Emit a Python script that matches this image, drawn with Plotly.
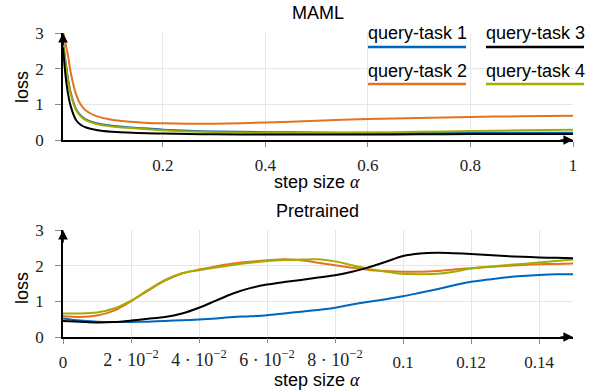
import plotly.graph_objects as go

# ---------------- data ----------------
top_alpha = [0.005, 0.01, 0.015, 0.02, 0.03, 0.04, 0.05, 0.07, 0.1, 0.13, 0.17, 0.2,
             0.25, 0.3, 0.4, 0.5, 0.6, 0.7, 0.8, 0.9, 1.0]
maml_task1 = [2.75, 2.2, 1.7, 1.33, 0.88, 0.68, 0.57, 0.47, 0.40, 0.36, 0.32, 0.29,
              0.26, 0.24, 0.22, 0.21, 0.2, 0.2, 0.2, 0.2, 0.2]
maml_task2 = [3.05, 2.7, 2.35, 1.9, 1.3, 0.98, 0.82, 0.67, 0.57, 0.52, 0.48, 0.47,
              0.455, 0.455, 0.49, 0.54, 0.59, 0.62, 0.645, 0.665, 0.68]
maml_task3 = [2.6, 1.8, 1.28, 0.95, 0.57, 0.42, 0.35, 0.28, 0.23, 0.21, 0.19, 0.18,
              0.17, 0.16, 0.155, 0.155, 0.155, 0.16, 0.165, 0.17, 0.17]
maml_task4 = [2.7, 2.15, 1.65, 1.3, 0.85, 0.66, 0.55, 0.45, 0.38, 0.34, 0.3, 0.27,
              0.24, 0.22, 0.2, 0.2, 0.21, 0.23, 0.25, 0.27, 0.29]

bottom_alpha = [0, 0.005, 0.01, 0.015, 0.02, 0.025, 0.03, 0.035, 0.04, 0.045, 0.05,
                0.055, 0.06, 0.065, 0.07, 0.075, 0.08, 0.085, 0.09, 0.095, 0.1,
                0.105, 0.11, 0.115, 0.12, 0.125, 0.13, 0.135, 0.14, 0.145, 0.15]
pre_task1 = [0.52, 0.46, 0.43, 0.42, 0.42, 0.43, 0.45, 0.47, 0.49, 0.52, 0.56,
             0.58, 0.61, 0.66, 0.71, 0.76, 0.82, 0.91, 0.99, 1.06, 1.14,
             1.24, 1.34, 1.45, 1.55, 1.61, 1.67, 1.71, 1.74, 1.76, 1.76]
pre_task2 = [0.58, 0.56, 0.6, 0.74, 1.0, 1.3, 1.58, 1.78, 1.89, 1.98, 2.06,
             2.11, 2.15, 2.18, 2.15, 2.08, 2.01, 1.94, 1.88, 1.85, 1.83,
             1.83, 1.85, 1.89, 1.93, 1.96, 1.99, 2.02, 2.04, 2.05, 2.06]
pre_task3 = [0.45, 0.43, 0.41, 0.42, 0.46, 0.51, 0.56, 0.66, 0.82, 1.02, 1.22,
             1.37, 1.47, 1.54, 1.6, 1.67, 1.73, 1.83, 1.96, 2.11, 2.27,
             2.34, 2.36, 2.35, 2.33, 2.3, 2.27, 2.25, 2.23, 2.22, 2.21]
pre_task4 = [0.66, 0.66, 0.69, 0.8, 1.02, 1.32, 1.6, 1.79, 1.87, 1.95, 2.02,
             2.08, 2.13, 2.16, 2.17, 2.18, 2.12, 2.01, 1.91, 1.83, 1.77,
             1.76, 1.77, 1.83, 1.92, 1.97, 2.01, 2.05, 2.09, 2.13, 2.17]

series_names = ["query-task 1", "query-task 2", "query-task 3", "query-task 4"]
colors = ["#0065BD", "#E37222", "#000000", "#A2AD00"]

top_xticks = [0.2, 0.4, 0.6, 0.8, 1]
top_xticklabels = ["0.2", "0.4", "0.6", "0.8", "1"]
bottom_xticks_main = [0, 0.1, 0.12, 0.14]
bottom_xticklabels_main = ["0", "0.1", "0.12", "0.14"]
bottom_xticks_sci = [0.02, 0.04, 0.06, 0.08]
bottom_xticklabels_sci = ["2 · 10<sup>−2</sup>", "4 · 10<sup>−2</sup>",
                          "6 · 10<sup>−2</sup>", "8 · 10<sup>−2</sup>"]
yticks = [0, 1, 2, 3]

# ---------------- figure ----------------
W, H = 591, 391
def px(v):
    return v / W
def py(v):
    return 1 - v / H

fig = go.Figure()
top_series = [maml_task1, maml_task2, maml_task3, maml_task4]
bot_series = [pre_task1, pre_task2, pre_task3, pre_task4]
order = [0, 1, 3, 2]
for i in order:
    fig.add_trace(go.Scatter(x=top_alpha, y=top_series[i], mode="lines",
                             line=dict(color=colors[i], width=2, shape="spline", smoothing=0.6),
                             name=series_names[i], showlegend=False,
                             xaxis="x", yaxis="y"))
for i in order:
    fig.add_trace(go.Scatter(x=bottom_alpha, y=bot_series[i], mode="lines",
                             line=dict(color=colors[i], width=2, shape="spline", smoothing=0.8),
                             name=series_names[i], showlegend=False,
                             xaxis="x2", yaxis="y2"))
# helper trace so the overlay axis (scientific tick labels) is drawn
fig.add_trace(go.Scatter(x=[0.05], y=[None], mode="lines", showlegend=False,
                         hoverinfo="skip", xaxis="x3", yaxis="y2"))

tickfont = dict(family="Liberation Serif, serif", size=17, color="#222")
grid = "#e6e6e6"
xdom = [px(63), px(573)]
common_x = dict(showgrid=True, gridcolor=grid, gridwidth=1, zeroline=False,
                showline=True, linecolor="black", linewidth=1.6,
                ticks="outside", ticklen=5, tickcolor="#888", tickwidth=1,
                tickfont=tickfont, automargin=False, ticklabelstandoff=4)
common_y = dict(showgrid=True, gridcolor=grid, gridwidth=1, zeroline=False,
                showline=True, linecolor="black", linewidth=1.6,
                ticks="outside", ticklen=6, tickcolor="#888", tickwidth=1,
                tickfont=tickfont, automargin=False, range=[0, 3],
                tickvals=yticks, ticktext=[str(v) for v in yticks],
                ticklabelstandoff=8)

fig.update_layout(
    width=W, height=H,
    margin=dict(l=0, r=0, t=0, b=0),
    paper_bgcolor="white", plot_bgcolor="white",
    xaxis=dict(domain=xdom, range=[0.005, 1], anchor="y",
               tickvals=top_xticks, ticktext=top_xticklabels, **common_x),
    yaxis=dict(domain=[py(140), py(33)], anchor="x", **common_y),
    xaxis2=dict(domain=xdom, range=[0, 0.15], anchor="y2",
                tickvals=bottom_xticks_main, ticktext=bottom_xticklabels_main,
                **common_x),
    xaxis3=dict(overlaying="x2", anchor="y2", matches="x2",
                showgrid=True, gridcolor=grid, gridwidth=1,
                zeroline=False, showline=False,
                ticks="outside", ticklen=5, tickcolor="#888", tickwidth=1,
                tickvals=bottom_xticks_sci, ticktext=bottom_xticklabels_sci,
                tickfont=dict(family="Liberation Serif, serif", size=18, color="#222"),
                automargin=False, ticklabelstandoff=1,
                side="bottom"),
    yaxis2=dict(domain=[py(337), py(230)], anchor="x2", **common_y),
    showlegend=False,
)

sans = "Liberation Sans, Arial, sans-serif"
FS = 18
ann = []
ann.append(dict(text="MAML", x=px(318), y=py(13), xref="paper", yref="paper",
                showarrow=False, font=dict(family=sans, size=FS, color="black"),
                xanchor="center", yanchor="middle"))
ann.append(dict(text="Pretrained", x=px(318), y=py(211), xref="paper", yref="paper",
                showarrow=False, font=dict(family=sans, size=FS, color="black"),
                xanchor="center", yanchor="middle"))
xt = 'step size <span style="font-family:Liberation Serif;font-style:italic">α</span>'
ann.append(dict(text=xt, x=px(317), y=py(182), xref="paper", yref="paper",
                showarrow=False, font=dict(family=sans, size=FS, color="black"),
                xanchor="center", yanchor="middle"))
ann.append(dict(text=xt, x=px(317), y=py(380), xref="paper", yref="paper",
                showarrow=False, font=dict(family=sans, size=FS, color="black"),
                xanchor="center", yanchor="middle"))
for yc in (87, 288):
    ann.append(dict(text="loss", x=px(22), y=py(yc), xref="paper", yref="paper",
                    showarrow=False, textangle=-90,
                    font=dict(family=sans, size=FS, color="black"),
                    xanchor="center", yanchor="middle"))
# axis arrowheads
for xr, yr, xmax, xmin in (("x", "y", 1, 0.005), ("x2", "y2", 0.15, 0)):
    ann.append(dict(x=xmax, y=0, xref=xr, yref=yr, ax=-14, ay=0, text="",
                    showarrow=True, arrowhead=2, arrowsize=1.2, arrowwidth=1.6,
                    arrowcolor="black"))
    ann.append(dict(x=xmin, y=3, xref=xr, yref=yr, ax=0, ay=14, text="",
                    showarrow=True, arrowhead=2, arrowsize=1.2, arrowwidth=1.6,
                    arrowcolor="black"))

# legend (text above a line sample)
legend_pos = {0: (417, 33.5, 368, 466, 47), 2: (535, 33.5, 486, 584, 47),
              1: (417, 71, 368, 466, 84), 3: (535, 71, 486, 584, 84)}
shapes = []
for i, (tx, ty, x0, x1, ly) in legend_pos.items():
    ann.append(dict(text=series_names[i], x=px(tx), y=py(ty), xref="paper", yref="paper",
                    showarrow=False, font=dict(family=sans, size=FS, color="black"),
                    xanchor="center", yanchor="middle"))
    shapes.append(dict(type="line", xref="paper", yref="paper", x0=px(x0), x1=px(x1),
                       y0=py(ly), y1=py(ly), line=dict(color=colors[i], width=2.5)))

fig.update_layout(annotations=ann, shapes=shapes)
fig.write_html("out.html")
